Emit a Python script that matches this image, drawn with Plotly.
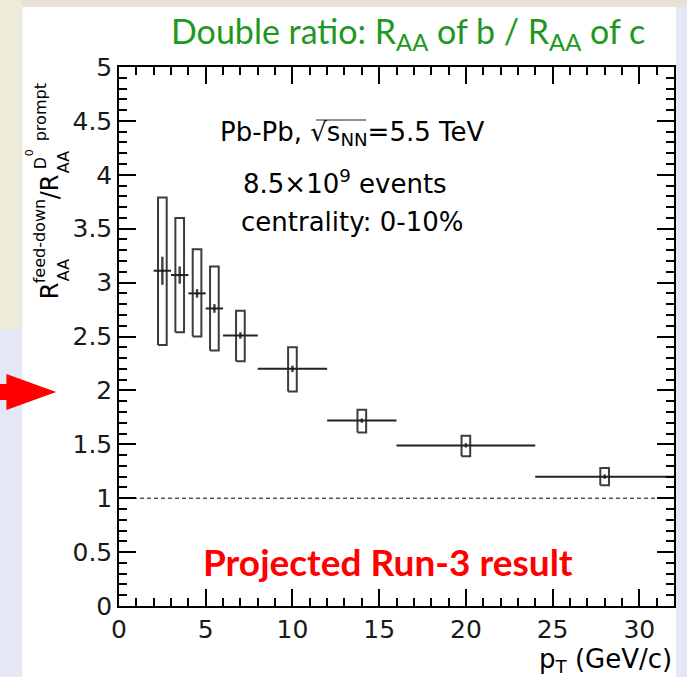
import plotly.graph_objects as go

# ---- data -------------------------------------------------------------
pt_center = [2.5, 3.5, 4.5, 5.5, 7.0, 10.0, 14.0, 20.0, 28.0]
pt_halfwidth = [0.5, 0.5, 0.5, 0.5, 1.0, 2.0, 2.0, 4.0, 4.0]
double_ratio = [3.11, 3.07, 2.90, 2.76, 2.51, 2.20, 1.72, 1.49, 1.20]
stat_err = [0.13, 0.08, 0.04, 0.04, 0.03, 0.03, 0.02, 0.02, 0.02]
syst_low = [2.42, 2.54, 2.50, 2.37, 2.27, 1.99, 1.61, 1.39, 1.12]
syst_high = [3.79, 3.60, 3.31, 3.15, 2.74, 2.40, 1.82, 1.58, 1.28]
unity = 1.0

x_ticks = [0, 5, 10, 15, 20, 25, 30]
y_ticks = [0, 0.5, 1, 1.5, 2, 2.5, 3, 3.5, 4, 4.5, 5]
y_tick_text = ["0", "0.5", "1", "1.5", "2", "2.5", "3", "3.5", "4", "4.5", "5"]

# ---- page geometry ----------------------------------------------------
W, H = 687, 677
ML, MR, MT, MB = 119, 11, 67, 71
PW, PH = W - ML - MR, H - MT - MB


def px(x):
    return (x - ML) / PW


def py(y):
    return (H - MB - y) / PH


ROOT_FONT = "DejaVu Sans"
INK = "#1a1a1a"
BOX_W = 0.25  # half width of the systematic boxes (GeV/c)

fig = go.Figure()

# systematic uncertainty boxes
bx, by = [], []
for c, lo, hi in zip(pt_center, syst_low, syst_high):
    bx += [c - BOX_W, c + BOX_W, c + BOX_W, c - BOX_W, c - BOX_W, None]
    by += [lo, lo, hi, hi, lo, None]
fig.add_trace(go.Scatter(x=bx, y=by, mode="lines",
                         line=dict(color="#3c3c3c", width=2),
                         hoverinfo="skip", showlegend=False))

# points with bin widths and statistical errors
fig.add_trace(go.Scatter(
    x=pt_center, y=double_ratio, mode="markers",
    marker=dict(size=2, color=INK),
    error_x=dict(type="data", array=pt_halfwidth, width=0, thickness=2, color="#222"),
    error_y=dict(type="data", array=stat_err, width=0, thickness=2.5, color="#444"),
    showlegend=False))

shapes = [
    # background panel
    dict(type="rect", xref="paper", yref="paper", x0=px(22), x1=px(678), y0=py(7), y1=py(H + 5),
         fillcolor="white", line_width=0, layer="below"),
    dict(type="rect", xref="paper", yref="paper", x0=px(-5), x1=px(22), y0=py(-5), y1=py(330),
         fillcolor="#eeebda", line_width=0, layer="below"),
    dict(type="rect", xref="paper", yref="paper", x0=px(22), x1=px(692), y0=py(-5), y1=py(7),
         fillcolor="#e6e3d6", line_width=0, layer="below"),
    # reference line at unity
    dict(type="line", xref="x", yref="y", x0=0, x1=32, y0=unity, y1=unity,
         line=dict(color="black", width=1, dash="4px,3px")),
    # overline of the square root
    dict(type="line", xref="paper", yref="paper", x0=px(317), x1=px(367), y0=py(120), y1=py(120),
         line=dict(color=INK, width=1.2)),
    # red arrow
    dict(type="path", xref="paper", yref="paper",
         path=(f"M {px(-2)},{py(384)} L {px(6)},{py(384)} L {px(6)},{py(374)} "
               f"L {px(56)},{py(392)} L {px(6)},{py(410)} L {px(6)},{py(400)} "
               f"L {px(-2)},{py(400)} Z"),
         fillcolor="#ff0000", line_width=0),
]

annotations = []


def note(text, x, y, size, color="black", family=ROOT_FONT, angle=0, xanchor="center", weight=None):
    f = dict(family=family, size=size, color=color)
    if weight:
        f["weight"] = weight
    annotations.append(dict(text=text, x=px(x), y=py(y), xref="paper", yref="paper",
                            showarrow=False, textangle=angle, xanchor=xanchor, yanchor="middle",
                            font=f))


# slide title
note("Double ratio: R<sub>AA</sub> of b / R<sub>AA</sub> of c", 409, 33, 34,
     color="#1e981e", family="Lato")
# physics labels
note("Pb-Pb, √s<sub>NN</sub>=5.5 TeV", 353, 133, 26)
note("8.5×10<sup>9</sup> events", 346, 182, 26)
note("centrality: 0-10%", 353, 222, 26)
note("Projected Run-3 result", 389, 561, 37, color="#ff0000", family="Lato", weight="bold")
# x-axis title
note("p<sub>T</sub> (GeV/c)", 676, 660, 26, xanchor="right")
# y-axis title, stacked sub/superscripts
note("R", 50, 291, 24, angle=-90)
note("feed-down", 40, 241, 16, angle=-90)
note("AA", 63, 270, 16, angle=-90)
note("/R", 50, 187, 24, angle=-90)
note("AA", 63, 162, 16, angle=-90)
note("D", 40, 163, 16, angle=-90)
note("0", 29, 153, 11, angle=-90)
note("prompt", 40, 112, 16, angle=-90)

fig.update_layout(
    width=W, height=H,
    margin=dict(l=ML, r=MR, t=MT, b=MB, pad=0),
    paper_bgcolor="#e4e8f6", plot_bgcolor="white",
    shapes=shapes, annotations=annotations,
    showlegend=False,
)

axis_common = dict(
    showgrid=False, zeroline=False, showline=True, linecolor="black", linewidth=1.5,
    mirror="ticks", ticks="inside", ticklen=17, tickwidth=1.5, tickcolor="black",
    tickfont=dict(family=ROOT_FONT, size=25, color=INK),
)
fig.update_xaxes(range=[0, 32], tickvals=x_ticks,
                 minor=dict(dtick=1, ticks="inside", ticklen=8, tickwidth=1.5, tickcolor="black"),
                 **axis_common)
fig.update_yaxes(range=[0, 5], tickvals=y_ticks, ticktext=y_tick_text,
                 minor=dict(dtick=0.1, ticks="inside", ticklen=8, tickwidth=1.5, tickcolor="black"),
                 **axis_common)

fig.write_html("out.html")
